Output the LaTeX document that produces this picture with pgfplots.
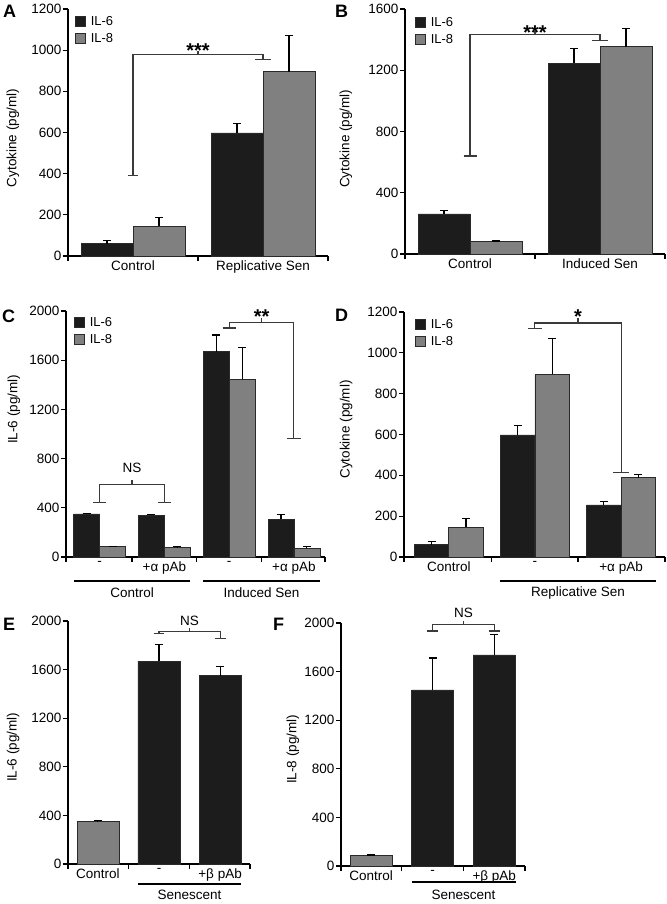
\documentclass[border=0pt]{standalone}
\usepackage{fontspec}
\setmainfont{Liberation Sans}
\usepackage{pgfplots}
\pgfplotsset{compat=1.18}

\definecolor{ilsix}{HTML}{1C1C1C}
\definecolor{ileight}{HTML}{808080}
\definecolor{edge}{HTML}{2A2A2A}
\definecolor{brkc}{HTML}{3A3A3A}

\newcommand{\fs}{\fontsize{13.5}{15}\selectfont}

\tikzset{
  brk/.style={draw=brkc, line width=1.1pt},
  stars/.style={font=\bfseries\fontsize{20}{20}\selectfont, anchor=center, yshift=-4pt},
}

\pgfplotsset{
  panel/.style={
    scale only axis, anchor=south west, clip=false,
    axis lines*=left, axis line style={line width=1.1pt,-},
    tick align=outside, major tick length=5pt,
    tick style={line width=1.1pt, black},
    ymin=0, scaled y ticks=false,
    /pgf/number format/assume math mode=true,
    /pgf/number format/1000 sep={},
    font=\fs, tick label style={font=\fs},
    yticklabel style={inner sep=1.5pt},
    xticklabels={},
    extra x tick style={major tick length=0pt, xticklabel style={yshift=-1pt}},
    every axis y label/.style={anchor=center, rotate=90, font=\fs},
    ybar=0pt, bar width=0.4,
    legend style={at={(axis description cs:0,1)}, anchor=north west,
      draw=none, fill=none, inner sep=0pt, row sep=0pt,
      font=\fontsize{13}{15}\selectfont,
      nodes={inner sep=2pt, text height=10pt, text depth=3pt},
      /tikz/every odd column/.append style={column sep=3pt}},
    legend cell align=left,
    legend image code/.code={\draw[#1] (0pt,-5pt) rectangle (10pt,5pt);},
  },
  errs/.style={error bars/y dir=plus, error bars/y explicit,
    error bars/error bar style={line width=1.1pt, black},
    error bars/error mark options={rotate=90, line width=1.1pt, black, mark size=4pt}},
  il6/.style={fill=ilsix, draw=edge, line width=0.6pt, errs},
  il8/.style={fill=ileight, draw=edge, line width=0.6pt, errs},
}

\begin{document}
\begin{tikzpicture}

% ---------- A ----------
\begin{axis}[panel, at={(68pt,-256pt)}, width=260pt, height=247pt,
  xmin=-0.5, xmax=1.5, ymax=1200, ytick={0,200,...,1200},
  xtick={-0.5,0.5,1.5}, extra x ticks={0,1},
  extra x tick labels={Control,Replicative Sen},
  ylabel={Cytokine (pg/ml)}, ylabel style={at={(axis description cs:-0.212,0.478)}},
  legend style={xshift=7pt, yshift=-4pt}]
\addplot[il6] coordinates {(0,60) +- (0,15) (1,598) +- (0,45)};
\addplot[il8] coordinates {(0,145) +- (0,42) (1,895) +- (0,175)};
\legend{IL-6,IL-8}
\draw[brk] (axis cs:-0.04,390) -- (axis cs:0.04,390);
\draw[brk] (axis cs:0,390) -- (axis cs:0,980) -- (axis cs:1,980) -- (axis cs:1,955);
\draw[brk] (axis cs:0.94,955) -- (axis cs:1.06,955);
\draw[brk] (axis cs:0.5,980) -- (axis cs:0.5,997);
\node[stars] at (axis cs:0.5,1015) {***};
\end{axis}

% ---------- B ----------
\begin{axis}[panel, at={(405pt,-254pt)}, width=260pt, height=245pt,
  xmin=-0.5, xmax=1.5, ymax=1600, ytick={0,400,...,1600},
  xtick={-0.5,0.5,1.5}, extra x ticks={0,1},
  extra x tick labels={Control,Induced Sen},
  ylabel={Cytokine (pg/ml)}, ylabel style={at={(axis description cs:-0.227,0.47)}},
  legend style={xshift=10pt, yshift=-5pt}]
\addplot[il6] coordinates {(0,262) +- (0,25) (1,1245) +- (0,95)};
\addplot[il8] coordinates {(0,80) +- (0,5) (1,1355) +- (0,120)};
\legend{IL-6,IL-8}
\draw[brk] (axis cs:-0.05,640) -- (axis cs:0.05,640);
\draw[brk] (axis cs:0,640) -- (axis cs:0,1435) -- (axis cs:1,1435) -- (axis cs:1,1397);
\draw[brk] (axis cs:0.94,1397) -- (axis cs:1.06,1397);
\draw[brk] (axis cs:0.5,1435) -- (axis cs:0.5,1458);
\node[stars] at (axis cs:0.5,1474) {***};
\end{axis}

% ---------- C ----------
\begin{axis}[panel, at={(66pt,-557pt)}, width=259pt, height=246pt,
  xmin=-0.52, xmax=3.48, ymax=2000, ytick={0,400,...,2000},
  xtick={-0.52,0.5,1.5,2.5,3.48}, extra x ticks={0,1,2,3},
  extra x tick labels={-,+α pAb,-,+α pAb},
  ylabel={IL-6 (pg/ml)}, ylabel style={at={(axis description cs:-0.201,0.6)}},
  legend style={xshift=8pt, yshift=-3pt}]
\addplot[il6] coordinates {(0,350) +- (0,6) (1,340) +- (0,8) (2,1670) +- (0,135) (3,305) +- (0,40)};
\addplot[il8] coordinates {(0,85) +- (0,3) (1,80) +- (0,4) (2,1445) +- (0,260) (3,70) +- (0,12)};
\legend{IL-6,IL-8}
% NS
\draw[brk] (axis cs:-0.1,443) -- (axis cs:0.1,443);
\draw[brk] (axis cs:0.9,443) -- (axis cs:1.1,443);
\draw[brk] (axis cs:0,443) -- (axis cs:0,586) -- (axis cs:1,586) -- (axis cs:1,443);
\draw[brk] (axis cs:0.5,586) -- (axis cs:0.5,625);
\node[font=\fs] at (axis cs:0.5,722) {NS};
% **
\draw[brk] (axis cs:1.9,1862) -- (axis cs:2.1,1862);
\draw[brk] (axis cs:2,1862) -- (axis cs:2,1905) -- (axis cs:3,1905) -- (axis cs:3,965);
\draw[brk] (axis cs:2.89,965) -- (axis cs:3.11,965);
\draw[brk] (axis cs:2.5,1905) -- (axis cs:2.5,1945);
\node[stars] at (axis cs:2.5,1990) {**};
% groups
\draw[black, line width=1.1pt] ([yshift=-24pt]axis cs:-0.4,0) -- ([yshift=-24pt]axis cs:1.4,0);
\draw[black, line width=1.1pt] ([yshift=-24pt]axis cs:1.6,0) -- ([yshift=-24pt]axis cs:3.4,0);
\node[font=\fs] at ([yshift=-36pt]axis cs:0.5,0) {Control};
\node[font=\fs] at ([yshift=-36pt]axis cs:2.5,0) {Induced Sen};
\end{axis}

% ---------- D ----------
\begin{axis}[panel, at={(404pt,-557pt)}, width=261pt, height=245pt,
  xmin=-0.52, xmax=2.51, ymax=1200, ytick={0,200,...,1200},
  xtick={-0.52,0.5,1.5,2.51}, extra x ticks={0,1,2},
  extra x tick labels={Control,-,+α pAb},
  ylabel={Cytokine (pg/ml)}, ylabel style={at={(axis description cs:-0.222,0.52)}},
  legend style={xshift=11pt, yshift=-4pt}]
\addplot[il6] coordinates {(0,60) +- (0,15) (1,598) +- (0,45) (2,255) +- (0,15)};
\addplot[il8] coordinates {(0,145) +- (0,42) (1,895) +- (0,175) (2,388) +- (0,15)};
\legend{IL-6,IL-8}
\draw[brk] (axis cs:0.92,1118) -- (axis cs:1.08,1118);
\draw[brk] (axis cs:1,1118) -- (axis cs:1,1146) -- (axis cs:2,1146) -- (axis cs:2,412);
\draw[brk] (axis cs:1.91,412) -- (axis cs:2.09,412);
\draw[brk] (axis cs:1.5,1146) -- (axis cs:1.5,1172);
\node[stars] at (axis cs:1.5,1195) {*};
\draw[black, line width=1.1pt] ([yshift=-24pt]axis cs:0.6,0) -- ([yshift=-24pt]axis cs:2.4,0);
\node[font=\fs] at ([yshift=-36pt]axis cs:1.5,0) {Replicative Sen};
\end{axis}

% ---------- E ----------
\begin{axis}[panel, at={(68pt,-864pt)}, width=182pt, height=243pt,
  xmin=-0.49, xmax=2.49, ymax=2000, ytick={0,400,...,2000},
  xtick={-0.49,0.5,1.5,2.49}, extra x ticks={0,1,2},
  extra x tick labels={Control,-,+β pAb},
  bar width=0.69,
  ylabel={IL-6 (pg/ml)}, ylabel style={at={(axis description cs:-0.302,0.48)}}]
\addplot[il8, bar shift=0pt] coordinates {(0,350) +- (0,6)};
\addplot[il6, bar shift=0pt] coordinates {(1,1670) +- (0,135) (2,1550) +- (0,78)};
\draw[brk] (axis cs:0.91,1896) -- (axis cs:1.09,1896);
\draw[brk] (axis cs:1,1896) -- (axis cs:1,1915) -- (axis cs:2,1915) -- (axis cs:2,1858);
\draw[brk] (axis cs:1.91,1858) -- (axis cs:2.09,1858);
\draw[brk] (axis cs:1.5,1915) -- (axis cs:1.5,1942);
\node[font=\fs] at (axis cs:1.5,2005) {NS};
\draw[black, line width=1.1pt] ([yshift=-20pt]axis cs:0.655,0) -- ([yshift=-20pt]axis cs:2.345,0);
\node[font=\fs] at ([yshift=-31pt]axis cs:1.5,0) {Senescent};
\end{axis}

% ---------- F ----------
\begin{axis}[panel, at={(341pt,-866pt)}, width=184pt, height=243pt,
  xmin=-0.49, xmax=2.5, ymax=2000, ytick={0,400,...,2000},
  xtick={-0.49,0.5,1.5,2.5}, extra x ticks={0,1,2},
  extra x tick labels={Control,-,+β pAb},
  bar width=0.68,
  ylabel={IL-8 (pg/ml)}, ylabel style={at={(axis description cs:-0.261,0.48)}}]
\addplot[il8, bar shift=0pt] coordinates {(0,88) +- (0,3)};
\addplot[il6, bar shift=0pt] coordinates {(1,1450) +- (0,262) (2,1738) +- (0,166)};
\draw[brk] (axis cs:0.91,1934) -- (axis cs:1.09,1934);
\draw[brk] (axis cs:1,1934) -- (axis cs:1,1989) -- (axis cs:2,1989) -- (axis cs:2,1934);
\draw[brk] (axis cs:1.91,1934) -- (axis cs:2.09,1934);
\draw[brk] (axis cs:1.5,1989) -- (axis cs:1.5,2018);
\node[font=\fs] at (axis cs:1.5,2082) {NS};
\draw[black, line width=1.1pt] ([yshift=-16pt]axis cs:0.67,0) -- ([yshift=-16pt]axis cs:2.35,0);
\node[font=\fs] at ([yshift=-29pt]axis cs:1.5,0) {Senescent};
\end{axis}

% panel letters
\begin{scope}[every node/.style={font=\bfseries\fontsize{18}{18}\selectfont, anchor=base west, inner sep=0pt}]
\node at (3pt,-18pt) {A};
\node at (335pt,-18pt) {B};
\node at (2pt,-322pt) {C};
\node at (335pt,-321pt) {D};
\node at (3pt,-630pt) {E};
\node at (273pt,-630pt) {F};
\end{scope}

\pgfresetboundingbox
\useasboundingbox (0,0) rectangle (666pt,-904pt);
\end{tikzpicture}
\end{document}
